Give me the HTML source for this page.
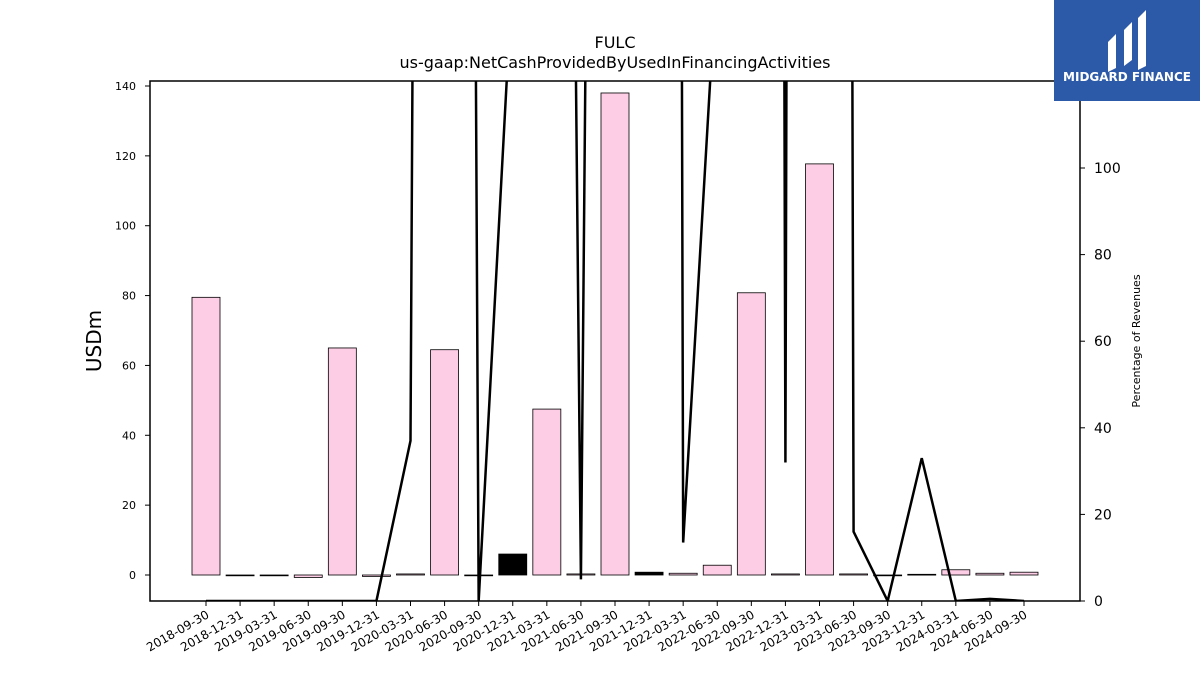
<!DOCTYPE html>
<html><head><meta charset="utf-8"><style>
body{margin:0;background:#fff;font-family:"Liberation Sans","DejaVu Sans",sans-serif;}
svg text{font-family:"DejaVu Sans","Liberation Sans",sans-serif;}
</style></head><body>
<svg id="c" width="1200" height="675" xmlns="http://www.w3.org/2000/svg">
<defs><clipPath id="pc"><rect x="150" y="81" width="930" height="520"/></clipPath></defs>
<text x="615" y="48" font-size="16" text-anchor="middle">FULC</text>
<text x="615" y="68" font-size="16" text-anchor="middle">us-gaap:NetCashProvidedByUsedInFinancingActivities</text>
<text transform="translate(101,341) rotate(-90)" font-size="20" text-anchor="middle">USDm</text>
<text transform="translate(1140,341) rotate(-90)" font-size="11" text-anchor="middle">Percentage of Revenues</text>
<g id="bars" clip-path="url(#pc)"></g>
<g id="line" clip-path="url(#pc)"></g>
<g id="axes"></g>
<rect x="150" y="81" width="930" height="520" fill="none" stroke="#000" stroke-width="1.5"/>
<g>
<rect x="1054" y="0" width="146" height="101" fill="#2d5aa8"/>
<path d="M1108 42 L1116 34 L1116 68 L1108 72 Z M1124 30 L1132 22 L1132 60 L1124 66 Z M1138 18 L1146 10 L1146 66 L1138 70 Z" fill="#fff"/>
<text x="1127" y="81" font-size="12" font-weight="bold" fill="#fff" text-anchor="middle">MIDGARD FINANCE</text>
</g>
</svg>
<script>
const categories=["2018-09-30","2018-12-31","2019-03-31","2019-06-30","2019-09-30","2019-12-31","2020-03-31","2020-06-30","2020-09-30","2020-12-31","2021-03-31","2021-06-30","2021-09-30","2021-12-31","2022-03-31","2022-06-30","2022-09-30","2022-12-31","2023-03-31","2023-06-30","2023-09-30","2023-12-31","2024-03-31","2024-06-30","2024-09-30"];
const values=[79.5,-0.2,-0.1,-0.7,65,-0.4,0.3,64.5,-0.1,6,47.5,0.3,138,0.8,0.5,2.8,80.8,0.3,117.7,0.3,-0.1,0.2,1.5,0.5,0.8];
const darkBars=[9,13];
const pctRevenue=[0,0,0,0,0,0,37,1500,0,146,800,5,900,3000,13.5,148,3000,32,3000,16,0,33,0,0.5,0];
const leftTicks=[0,20,40,60,80,100,120,140];
const rightTicks=[0,20,40,60,80,100];
const NS="http://www.w3.org/2000/svg";
const xPos=i=>206+i*((1024-206)/24);
const yL=v=>575-v*(575-86)/140;
const yR=v=>601-v*(601-168)/100;
function mk(t,a,p){const e=document.createElementNS(NS,t);for(const k in a)e.setAttribute(k,a[k]);p.appendChild(e);return e;}
const gb=document.getElementById('bars'),gl=document.getElementById('line'),ga=document.getElementById('axes');
values.forEach((v,i)=>{
 const y0=yL(0),y1=yL(v);
 const r=mk('rect',{x:xPos(i)-14,y:Math.min(y0,y1),width:28,height:Math.max(Math.abs(y1-y0),0.8),fill:darkBars.includes(i)?'#000':'#fccde5',stroke:'#000','stroke-width':0.8},gb);
 
 
});
const pts=pctRevenue.map((v,i)=>xPos(i)+','+yR(v)).join(' ');
const pl=mk('polyline',{points:pts,fill:'none',stroke:'#000','stroke-width':2.5},gl);


leftTicks.forEach(t=>{
 mk('line',{x1:145,x2:150,y1:yL(t),y2:yL(t),stroke:'#000'},ga);
 const tx=mk('text',{x:136,y:yL(t)+4,'font-size':11,'text-anchor':'end'},ga);tx.textContent=t;
 
 
});
rightTicks.forEach(t=>{
 mk('line',{x1:1080,x2:1085,y1:yR(t),y2:yR(t),stroke:'#000'},ga);
 const tx=mk('text',{x:1094,y:yR(t)+5,'font-size':14},ga);tx.textContent=t;
 
 
});
categories.forEach((c,i)=>{
 const x=xPos(i);
 mk('line',{x1:x,x2:x,y1:601,y2:606,stroke:'#000'},ga);
 const tx=mk('text',{x:0,y:0,'font-size':12,'text-anchor':'end',transform:`translate(${x+4},${617}) rotate(-30)`},ga);tx.textContent=c;
 
 
});
</script>
</body></html>
